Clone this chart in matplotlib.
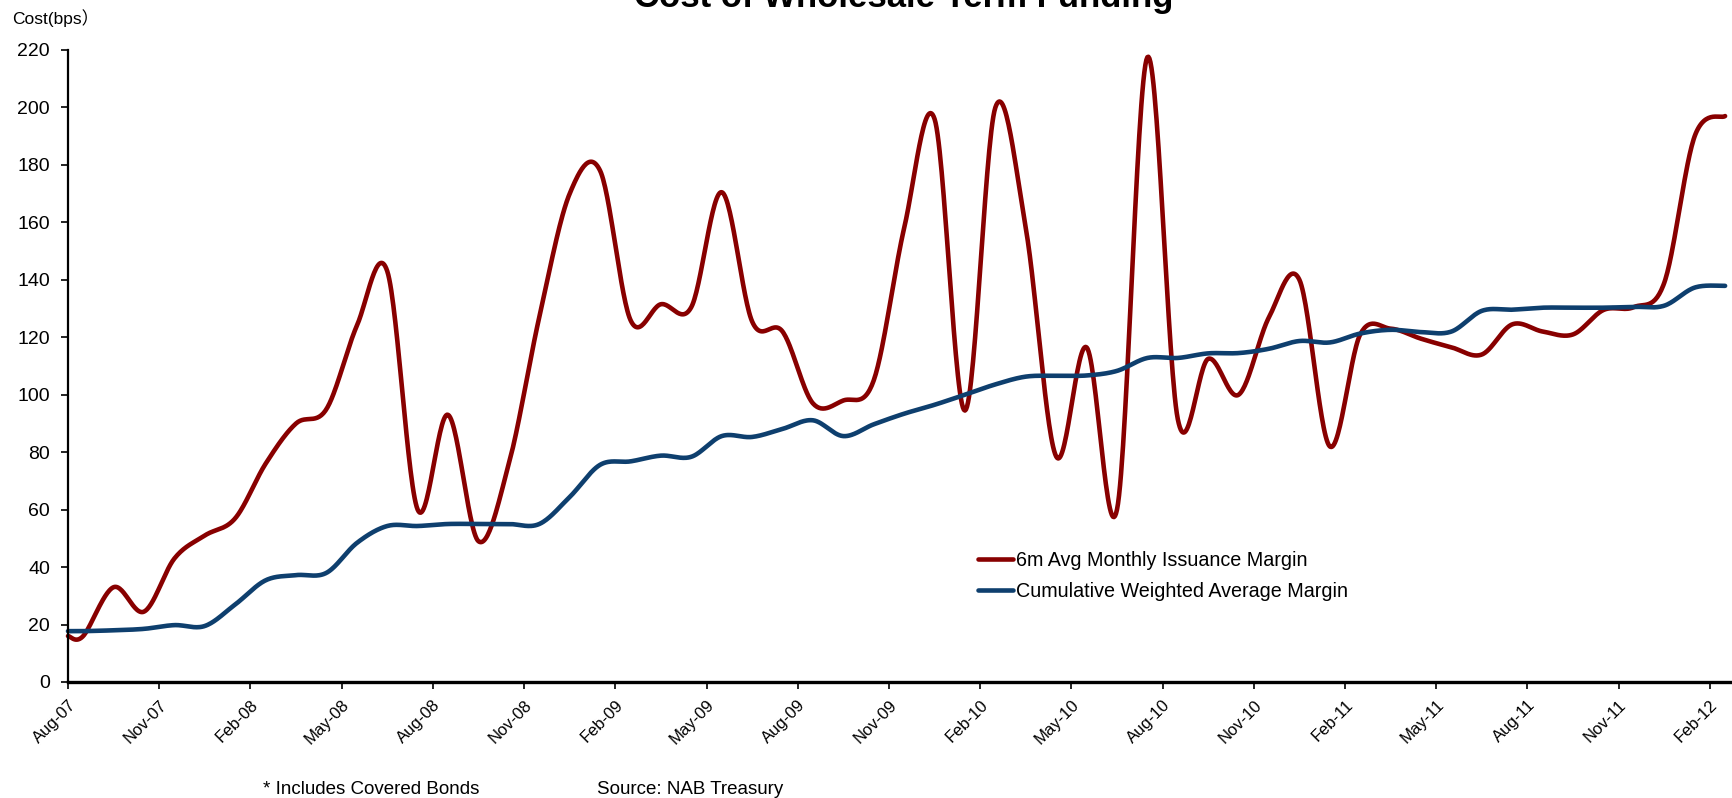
import matplotlib
matplotlib.use("Agg")
import matplotlib.pyplot as plt
import matplotlib.transforms as mtransforms
import numpy as np

plt.rcParams['font.family'] = ['Liberation Sans', 'Noto Sans CJK SC', 'DejaVu Sans']

# month offsets from Aug-07 (first point at the axis, then mid-month readings)
month_pos = [0] + [i + 0.5 for i in range(55)]

issuance_margin = [16, 16, 33, 24.5, 43, 51, 57, 76, 90, 95,
                   124, 143, 60, 93, 49, 76, 127, 170, 178, 126,
                   131.5, 130.5, 170.5, 125.5, 122, 97, 98, 105, 158, 196,
                   94.5, 200, 158, 78.5, 116.5, 60, 217.5, 91.5, 112.5, 100,
                   127, 140, 82, 121, 123, 119.5, 116.5, 114, 124.5, 122,
                   121, 129.5, 130.5, 139, 190, 197]

cumulative_margin = [17.7, 17.7, 18, 18.5, 19.8, 19.5, 27, 35.4, 37.2, 38,
                     48.4, 54.3, 54.3, 55, 55, 55, 55, 64.4, 75.6, 76.8,
                     78.8, 78.4, 85.6, 85.3, 88.1, 91.1, 85.6, 89.7, 93.4, 96.5,
                     100, 103.6, 106.3, 106.6, 106.7, 108.3, 112.8, 112.8, 114.4, 114.5,
                     116, 118.7, 118.2, 121.3, 122.6, 121.8, 122, 129.2, 129.6, 130.3,
                     130.3, 130.3, 130.6, 131, 137.3, 137.9]

tick_labels = ['Aug-07', 'Nov-07', 'Feb-08', 'May-08', 'Aug-08', 'Nov-08', 'Feb-09',
               'May-09', 'Aug-09', 'Nov-09', 'Feb-10', 'May-10', 'Aug-10', 'Nov-10',
               'Feb-11', 'May-11', 'Aug-11', 'Nov-11', 'Feb-12']


def smooth(x, y, n=30):
    # Bezier smoothing through the points, like a spreadsheet "smoothed line"
    px = np.r_[x[0], x, x[-1]].astype(float)
    py = np.r_[y[0], y, y[-1]].astype(float)
    t = np.linspace(0, 1, n, endpoint=False)[:, None]
    xs, ys = [], []
    for i in range(1, len(px) - 2):
        p0 = np.array([px[i - 1], py[i - 1]])
        p1 = np.array([px[i], py[i]])
        p2 = np.array([px[i + 1], py[i + 1]])
        p3 = np.array([px[i + 2], py[i + 2]])
        c1 = p1 + (p2 - p0) / 6
        c2 = p2 - (p3 - p1) / 6
        b = (1 - t) ** 3 * p1 + 3 * (1 - t) ** 2 * t * c1 + 3 * (1 - t) * t ** 2 * c2 + t ** 3 * p2
        xs.append(b[:, 0])
        ys.append(b[:, 1])
    xs.append([px[-1]])
    ys.append([py[-1]])
    return np.concatenate(xs), np.concatenate(ys)


W, H = 1733, 798
fig = plt.figure(figsize=(W / 100, H / 100), dpi=100)
ax = fig.add_axes([68 / W, 1 - 682 / H, 1 - 68 / W, (682 - 50) / H])

rx, ry = smooth(month_pos, issuance_margin)
bx, by = smooth(month_pos, cumulative_margin)
ax.plot(rx, ry, color='#880000', lw=3.3, label='6m Avg Monthly Issuance Margin',
        solid_capstyle='round', clip_on=False)
ax.plot(bx, by, color='#0E3F6E', lw=3.3, label='Cumulative Weighted Average Margin',
        solid_capstyle='round', clip_on=False)

ax.set_xlim(0, 54.76)
ax.set_ylim(0, 220)
ax.set_yticks(range(0, 221, 20))
ax.set_xticks(range(0, 55, 3))
ax.set_xticklabels(tick_labels, rotation=45, ha='right', va='top',
                   rotation_mode='anchor', fontsize=12)
shift = mtransforms.ScaledTranslation(12 / 100, 0, fig.dpi_scale_trans)
for lab in ax.get_xticklabels():
    lab.set_transform(lab.get_transform() + shift)
ax.tick_params(axis='y', labelsize=14, direction='out', length=5, width=1.2, pad=8)
ax.tick_params(axis='x', direction='out', length=5, width=1.2, pad=6)

for s in ['top', 'right']:
    ax.spines[s].set_visible(False)
ax.spines['left'].set_linewidth(1.6)
ax.spines['bottom'].set_linewidth(2.4)

ax.legend(loc='upper left', bbox_to_anchor=(978 / W, 1 - 551 / H),
          bbox_transform=fig.transFigure, frameon=False, fontsize=14.2,
          handlelength=1.75, handletextpad=0.2, labelspacing=0.6,
          borderpad=0, borderaxespad=0)

fig.text(12 / W, 1 - 18 / H, 'Cost(bps）', fontsize=12.5, ha='left', va='center')
fig.text(904 / W, 1 - 7 / H, 'Cost of Wholesale Term Funding', fontsize=25,
         fontweight='bold', ha='center', va='baseline')
fig.text(263 / W, 1 - 789 / H, '* Includes Covered Bonds', fontsize=13.5,
         ha='left', va='center')
fig.text(597 / W, 1 - 789 / H, 'Source: NAB Treasury', fontsize=13.5,
         ha='left', va='center')

fig.savefig('out.png', dpi=100)
